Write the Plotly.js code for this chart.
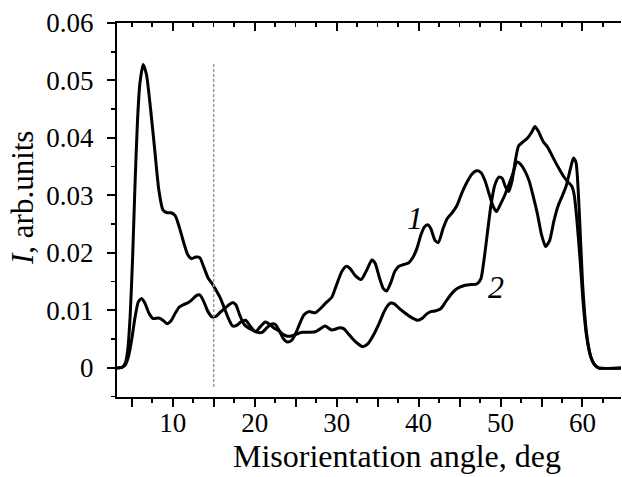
<!DOCTYPE html>
<html>
<head>
<meta charset="utf-8">
<script src="https://cdn.plot.ly/plotly-3.0.1.min.js"></script>
<style>html,body{margin:0;padding:0;background:#fff;}</style>
</head>
<body>
<div id="chart" style="width:622px;height:477px;"></div>
<script>
// Curve 1 (larger low-angle peak, flatter middle part)
const angleA = [3.2,3.8,4.2,4.5,4.8,5.1,5.4,5.7,6.0,6.4,6.8,7.3,7.8,8.3,8.8,9.3,9.8,10.3,10.8,11.3,11.8,12.3,12.8,13.3,13.8,14.3,14.8,15.3,15.8,16.3,16.8,17.3,17.8,18.3,18.9,19.5,20.1,20.7,21.3,21.8,22.3,22.8,23.3,23.8,24.3,24.8,25.3,25.8,26.3,26.8,27.4,28.0,28.6,29.4,30.4,30.9,31.4,32.0,32.6,33.2,33.8,34.6,35.2,35.8,36.2,36.6,37.0,37.6,38.3,39.1,39.9,40.5,41.0,41.5,42.0,42.7,43.3,43.9,44.5,45.1,45.7,46.4,47.1,47.6,48.0,48.4,48.8,49.3,49.8,50.2,50.6,51.0,51.4,51.8,52.2,52.8,53.3,53.8,54.2,54.6,55.2,55.7,56.2,56.7,57.2,57.7,58.2,58.7,59.0,59.3,59.7,60.1,60.5,61.0,61.5,62.0,64.7];
const intensityA = [0,0.0001,0.0008,0.003,0.0089,0.019,0.032,0.043,0.0496,0.0528,0.051,0.045,0.038,0.031,0.0275,0.027,0.027,0.0265,0.0245,0.022,0.0198,0.019,0.0193,0.0192,0.0175,0.0157,0.0147,0.0135,0.0122,0.0104,0.0086,0.0073,0.0074,0.008,0.0083,0.0072,0.0063,0.0072,0.008,0.0076,0.007,0.0066,0.006,0.0056,0.0055,0.0057,0.006,0.0062,0.0062,0.0062,0.0063,0.0068,0.0073,0.0066,0.007,0.0068,0.006,0.005,0.0042,0.0037,0.0042,0.006,0.0078,0.0098,0.0108,0.0113,0.0112,0.0104,0.0096,0.0088,0.0083,0.0087,0.0094,0.0098,0.0099,0.0103,0.0115,0.0127,0.0136,0.0141,0.0144,0.0145,0.0146,0.0155,0.019,0.0235,0.028,0.0318,0.0332,0.033,0.0315,0.0307,0.0325,0.036,0.0386,0.0394,0.04,0.041,0.042,0.0412,0.0394,0.0385,0.0372,0.0358,0.0345,0.0333,0.0324,0.0316,0.03,0.026,0.019,0.011,0.0055,0.002,0.0005,0,0];

// Curve 2 (smaller low-angle peak, rising middle part)
const angleB = [3.2,3.8,4.2,4.6,5.0,5.4,5.8,6.2,6.6,7.1,7.6,8.3,8.8,9.3,9.8,10.3,10.8,11.3,11.8,12.3,12.8,13.3,13.8,14.3,14.8,15.3,15.8,16.3,16.8,17.3,17.7,18.2,18.7,19.2,19.7,20.3,20.9,21.5,22.0,22.5,23.0,23.5,24.0,24.5,25.0,25.5,26.0,26.6,27.4,28.0,28.6,29.4,30.0,30.6,31.2,31.7,32.3,33.0,33.6,34.3,34.7,35.2,35.7,36.1,36.6,37.1,37.6,38.2,38.8,39.3,39.8,40.3,40.7,41.1,41.5,42.0,42.4,43.0,43.5,44.1,44.7,45.3,45.9,46.5,47.1,47.6,48.1,48.6,49.1,49.5,50.0,50.5,51.0,51.5,52.0,52.4,53.0,53.5,54.0,54.5,55.0,55.5,56.0,56.5,57.0,57.5,58.0,58.5,58.9,59.2,59.6,60.0,60.5,61.0,61.5,62.0,64.7];
const intensityB = [0,0.0001,0.0005,0.002,0.005,0.0088,0.0115,0.0121,0.0113,0.0095,0.0086,0.0087,0.0083,0.0077,0.0082,0.0095,0.0106,0.011,0.0113,0.0118,0.0125,0.0127,0.0115,0.0098,0.0089,0.009,0.0097,0.0103,0.0109,0.0114,0.011,0.0091,0.0076,0.007,0.0066,0.0062,0.0062,0.007,0.0076,0.0076,0.0065,0.0051,0.0045,0.0048,0.006,0.0077,0.0092,0.0098,0.0096,0.0103,0.0112,0.0123,0.0145,0.0167,0.0177,0.0172,0.016,0.0154,0.0168,0.0188,0.0182,0.0158,0.0138,0.0134,0.0148,0.0168,0.0177,0.018,0.0183,0.0192,0.0208,0.0232,0.0245,0.0249,0.0242,0.0222,0.0218,0.0243,0.026,0.027,0.0283,0.0305,0.0323,0.0337,0.0343,0.034,0.0326,0.0303,0.0281,0.0272,0.0285,0.03,0.0318,0.0338,0.0358,0.0355,0.0342,0.0325,0.0298,0.0268,0.0232,0.0211,0.0222,0.0255,0.0281,0.0298,0.0316,0.0345,0.0365,0.0358,0.0275,0.015,0.006,0.002,0.0005,0,0];

// Axis ticks and labels
const xTickVals = [5,10,15,20,25,30,35,40,45,50,55,60];
const xTickText = ['','10','','20','','30','','40','','50','','60'];
const yTickVals = [0,0.01,0.02,0.03,0.04,0.05,0.06];
const yTickText = ['0','0.01','0.02','0.03','0.04','0.05','0.06'];
const xRange = [3.2, 64.7];
const yRange = [-0.00505, 0.06];

// Annotation content
const boundaryAngle = 15;
const boundaryRange = [-0.0033, 0.0531];
const curveLabels = ['1', '2'];
const curveLabelX = [39.6, 49.5];
const curveLabelY = [0.026, 0.0141];
const xTitle = 'Misorientation angle, deg';
const yTitle = '<i>I</i>, arb.units';

const serif = 'Liberation Serif, Times New Roman, serif';
const lineStyle = {color: '#000', width: 3, shape: 'spline', smoothing: 0.6};

const traces = [
  {x: angleA, y: intensityA, type: 'scatter', mode: 'lines', line: lineStyle, hoverinfo: 'skip'},
  {x: angleB, y: intensityB, type: 'scatter', mode: 'lines', line: lineStyle, hoverinfo: 'skip'},
  {x: angleB, y: intensityB, xaxis: 'x2', type: 'scatter', mode: 'lines', line: {width: 0, color: 'rgba(0,0,0,0)'}, hoverinfo: 'skip', showlegend: false}
];

const tickFont = {family: serif, size: 27, color: '#000'};
const baseX = {
  range: xRange, showgrid: false, zeroline: false, showline: true,
  linecolor: '#000', linewidth: 2, tickcolor: '#000', tickwidth: 2, ticklen: 8,
  tickmode: 'array', tickvals: xTickVals, ticktext: xTickText, tickfont: tickFont
};

const layout = {
  width: 622, height: 477,
  margin: {l: 117, r: 1, t: 23, b: 80, pad: 0},
  paper_bgcolor: '#fff', plot_bgcolor: '#fff',
  showlegend: false,
  xaxis: Object.assign({}, baseX, {
    ticks: 'outside', ticklabelstandoff: -7,
    minor: {dtick: 2.5, tick0: 0, ticks: 'outside', ticklen: 4, tickwidth: 1.5, tickcolor: '#000'}
  }),
  xaxis2: Object.assign({}, baseX, {
    overlaying: 'x', side: 'top', anchor: 'y', ticks: 'inside', showticklabels: false,
    minor: {dtick: 2.5, tick0: 0, ticks: 'inside', ticklen: 4, tickwidth: 1.5, tickcolor: '#000'}
  }),
  yaxis: {
    range: yRange, showgrid: false, zeroline: false, showline: true,
    linecolor: '#000', linewidth: 2, ticks: 'outside', tickcolor: '#000', tickwidth: 2, ticklen: 8,
    tickmode: 'array', tickvals: yTickVals, ticktext: yTickText, tickfont: tickFont,
    ticklabelstandoff: 8,
    minor: {dtick: 0.005, tick0: 0, ticks: 'outside', ticklen: 4, tickwidth: 1.5, tickcolor: '#000'}
  },
  shapes: [{
    type: 'line', xref: 'x', yref: 'y',
    x0: boundaryAngle, x1: boundaryAngle, y0: boundaryRange[0], y1: boundaryRange[1],
    line: {color: '#9a9a9a', width: 1.5, dash: '3px,2px'}
  }],
  annotations: [
    {text: xTitle, xref: 'paper', yref: 'paper', x: 0.5565, y: -0.158, xanchor: 'center', yanchor: 'middle',
     showarrow: false, font: {family: serif, size: 32, color: '#000'}},
    {text: yTitle, xref: 'paper', yref: 'paper', x: -0.1885, y: 0.532, xanchor: 'center', yanchor: 'middle',
     textangle: -90, showarrow: false, font: {family: serif, size: 31, color: '#000'}},
    {text: '<i>' + curveLabels[0] + '</i>', xref: 'x', yref: 'y', x: curveLabelX[0], y: curveLabelY[0],
     showarrow: false, font: {family: serif, size: 32, color: '#000'}},
    {text: '<i>' + curveLabels[1] + '</i>', xref: 'x', yref: 'y', x: curveLabelX[1], y: curveLabelY[1],
     showarrow: false, font: {family: serif, size: 32, color: '#000'}}
  ]
};

Plotly.newPlot('chart', traces, layout, {staticPlot: true, displayModeBar: false});
</script>
</body>
</html>
